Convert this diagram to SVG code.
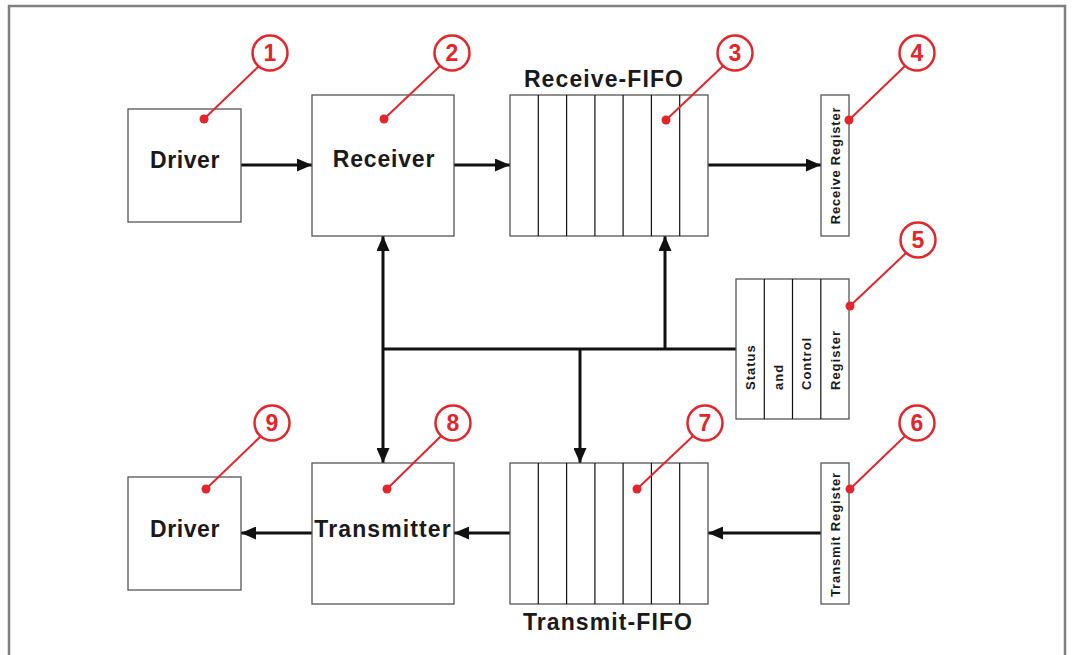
<svg xmlns="http://www.w3.org/2000/svg" width="1072" height="655" viewBox="0 0 1072 655">
<style>
.box{fill:#fff;stroke:#555;stroke-width:1.3}
.div{stroke:#111;stroke-width:1.2}
.conn{stroke:#111;stroke-width:3;fill:none}
.big{font-family:"Liberation Sans",Arial,sans-serif;font-weight:bold;font-size:23px;fill:#1a1a1a;text-anchor:middle}
.small{font-family:"Liberation Sans",Arial,sans-serif;font-weight:bold;font-size:13px;fill:#1a1a1a}
.callc{fill:#fff;stroke:#e3262b;stroke-width:2.5}
.calll{stroke:#e3262b;stroke-width:2}
.dot{fill:#e3262b}
.num{font-family:"Liberation Sans",Arial,sans-serif;font-weight:bold;font-size:23px;fill:#e3262b;text-anchor:middle}
</style>
<defs>
<marker id="ah" viewBox="0 0 15 13" refX="15" refY="6.5" markerWidth="15" markerHeight="13" markerUnits="userSpaceOnUse" orient="auto-start-reverse">
<path d="M0,0 L15,6.5 L0,13 Z" fill="#111"/>
</marker>
</defs>
<rect x="0" y="0" width="1072" height="655" fill="#fff"/>
<rect x="9" y="6" width="1056" height="720" fill="none" stroke="#808080" stroke-width="2.5"/>

<g id="connectors">
<line class="conn" x1="241" y1="165" x2="312" y2="165" marker-end="url(#ah)"/>
<line class="conn" x1="454" y1="165" x2="510" y2="165" marker-end="url(#ah)"/>
<line class="conn" x1="708" y1="165" x2="821" y2="165" marker-end="url(#ah)"/>
<line class="conn" x1="383" y1="236" x2="383" y2="463" marker-start="url(#ah)" marker-end="url(#ah)"/>
<line class="conn" x1="382" y1="349" x2="736" y2="349"/>
<line class="conn" x1="665" y1="349" x2="665" y2="236" marker-end="url(#ah)"/>
<line class="conn" x1="580" y1="349" x2="580" y2="463" marker-end="url(#ah)"/>
<line class="conn" x1="821" y1="533" x2="708" y2="533" marker-end="url(#ah)"/>
<line class="conn" x1="510" y1="533" x2="454" y2="533" marker-end="url(#ah)"/>
<line class="conn" x1="312" y1="533" x2="241" y2="533" marker-end="url(#ah)"/>
</g>

<g id="driver-rx">
<rect class="box" x="128" y="109" width="113" height="113"/>
<text class="big" x="185" y="168" letter-spacing="0.6">Driver</text>
</g>
<g id="receiver">
<rect class="box" x="312" y="95" width="142" height="141"/>
<text class="big" x="384" y="167" letter-spacing="0.8">Receiver</text>
</g>
<g id="receive-fifo">
<rect class="box" x="510" y="95" width="198" height="141"/>
<path class="div" d="M538.3,95V236M566.6,95V236M594.9,95V236M623.1,95V236M651.4,95V236M679.7,95V236"/>
<text class="big" x="604" y="87" letter-spacing="1.1">Receive-FIFO</text>
</g>
<g id="receive-register">
<rect class="box" x="821" y="95" width="28" height="141"/>
<text class="small" transform="translate(839.5,165.5) rotate(-90)" text-anchor="middle" letter-spacing="0.8">Receive Register</text>
</g>
<g id="status-control-register">
<rect class="box" x="736" y="279" width="113" height="140"/>
<path class="div" d="M764.3,279V419M792.5,279V419M820.8,279V419"/>
<text class="small" font-size="12.5" transform="translate(755,390) rotate(-90)" letter-spacing="1">Status</text>
<text class="small" font-size="12.5" transform="translate(783,390) rotate(-90)" letter-spacing="1">and</text>
<text class="small" font-size="12.5" transform="translate(811,390) rotate(-90)" letter-spacing="1">Control</text>
<text class="small" font-size="12.5" transform="translate(839.5,390) rotate(-90)" letter-spacing="1">Register</text>
</g>
<g id="driver-tx">
<rect class="box" x="128" y="477" width="113" height="113"/>
<text class="big" x="185" y="537" letter-spacing="0.6">Driver</text>
</g>
<g id="transmitter">
<rect class="box" x="312" y="463" width="142" height="141"/>
<text class="big" x="383" y="537" letter-spacing="1.1">Transmitter</text>
</g>
<g id="transmit-fifo">
<rect class="box" x="510" y="463" width="198" height="141"/>
<path class="div" d="M538.3,463V604M566.6,463V604M594.9,463V604M623.1,463V604M651.4,463V604M679.7,463V604"/>
<text class="big" x="608" y="630" letter-spacing="1.1">Transmit-FIFO</text>
</g>
<g id="transmit-register">
<rect class="box" x="821" y="463" width="28" height="141"/>
<text class="small" transform="translate(839.5,534.5) rotate(-90)" text-anchor="middle" letter-spacing="0.9">Transmit Register</text>
</g>

<g id="callout-1"><line class="calll" x1="204" y1="119" x2="259" y2="66"/><circle class="dot" cx="204" cy="119" r="4.5"/><circle class="callc" cx="270" cy="53" r="17.5"/><text class="num" x="270" y="61">1</text></g>
<g id="callout-2"><line class="calll" x1="384" y1="119" x2="440" y2="66"/><circle class="dot" cx="384" cy="119" r="4.5"/><circle class="callc" cx="452" cy="53" r="17.5"/><text class="num" x="452" y="61">2</text></g>
<g id="callout-3"><line class="calll" x1="666" y1="120" x2="723" y2="66"/><circle class="dot" cx="666" cy="120" r="4.5"/><circle class="callc" cx="735" cy="53" r="17.5"/><text class="num" x="735" y="61">3</text></g>
<g id="callout-4"><line class="calll" x1="849" y1="120" x2="905" y2="66"/><circle class="dot" cx="849" cy="120" r="4.5"/><circle class="callc" cx="917" cy="53" r="17.5"/><text class="num" x="917" y="61">4</text></g>
<g id="callout-5"><line class="calll" x1="850" y1="306" x2="906" y2="253"/><circle class="dot" cx="850" cy="306" r="4.5"/><circle class="callc" cx="918" cy="240" r="17.5"/><text class="num" x="918" y="248">5</text></g>
<g id="callout-6"><line class="calll" x1="850" y1="489" x2="905" y2="436"/><circle class="dot" cx="850" cy="489" r="4.5"/><circle class="callc" cx="917" cy="423" r="17.5"/><text class="num" x="917" y="431">6</text></g>
<g id="callout-7"><line class="calll" x1="637" y1="489" x2="693" y2="436"/><circle class="dot" cx="637" cy="489" r="4.5"/><circle class="callc" cx="705" cy="423" r="17.5"/><text class="num" x="705" y="431">7</text></g>
<g id="callout-8"><line class="calll" x1="387" y1="489" x2="441" y2="436"/><circle class="dot" cx="387" cy="489" r="4.5"/><circle class="callc" cx="453" cy="423" r="17.5"/><text class="num" x="453" y="431">8</text></g>
<g id="callout-9"><line class="calll" x1="206" y1="489" x2="261" y2="436"/><circle class="dot" cx="206" cy="489" r="4.5"/><circle class="callc" cx="272" cy="423" r="17.5"/><text class="num" x="272" y="431">9</text></g>
</svg>
